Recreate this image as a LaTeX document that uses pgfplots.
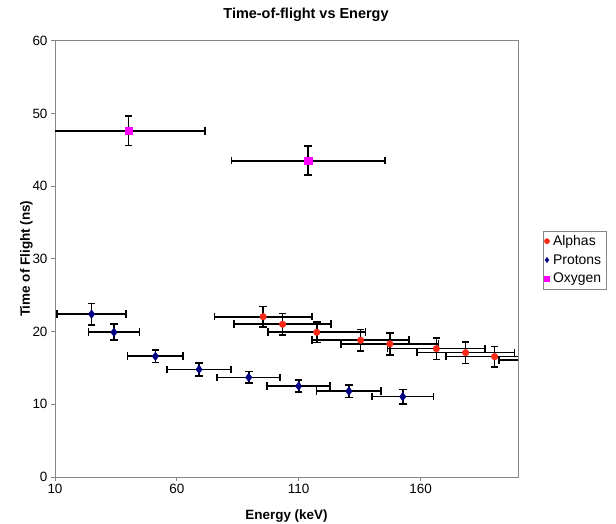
\documentclass[border=0pt]{standalone}
\usepackage{fontspec}
\setmainfont{Liberation Sans}
\usepackage{pgfplots}
\usepackage{pgfplotstable}
\pgfplotsset{compat=1.18}
\definecolor{alphared}{RGB}{250,40,20}
\definecolor{protonblue}{RGB}{0,0,128}
\definecolor{oxmag}{RGB}{255,0,255}
\definecolor{framegray}{RGB}{134,134,134}
\pgfplotstableread{
x y ex ey
95.4 22.05 20 1.4
103.4 21.0 20 1.5
117.4 19.9 20 1.4
135.4 18.8 20 1.5
147.4 18.3 20 1.5
166.5 17.65 20 1.5
178.5 17.1 20 1.5
190.4 16.55 20 1.4
212.2 16.1 20 1.5
}\alphas
\pgfplotstableread{
x y ex ey
25.0 22.4 14.2 1.45
34.2 19.9 10.5 1.1
51.2 16.6 11.4 0.85
69.1 14.8 13.0 0.9
89.5 13.7 12.9 0.8
110.0 12.5 12.9 0.85
130.6 11.8 13.3 0.85
152.7 11.05 12.6 1.0
}\protons
\pgfplotstableread{
x y ex ey
40.1 47.6 31.5 2.0
113.9 43.5 31.5 2.0
}\oxygen
\begin{document}
\begin{tikzpicture}[x=1bp,y=1bp]
\path[use as bounding box] (0,0) rectangle (616,524);
\begin{axis}[
  at={(55bp,47bp)}, anchor=south west,
  width=463bp, height=436.3bp, scale only axis,
  xmin=10, xmax=200, ymin=0, ymax=60,
  xtick={10,60,110,160}, ytick={0,10,...,60},
  tick align=outside, tick pos=left, major tick length=4bp,
  axis line style={framegray, line width=0.9bp},
  every tick/.style={framegray, line width=0.9bp},
  ticklabel style={font=\fontsize{13.5}{13.5}\selectfont},
  /pgf/number format/assume math mode=true,
  xlabel={Energy (keV)}, ylabel={Time of Flight (ns)},
  label style={font=\bfseries\fontsize{13.5}{13.5}\selectfont},
  xlabel style={at={(axis description cs:0.5,-0.0894)}, anchor=center},
  ylabel style={at={(axis description cs:-0.0616,0.5)}, anchor=center},
  clip marker paths=true,
  legend style={at={(axis description cs:1.0533,0.5645)}, anchor=north west,
    draw=framegray, font=\fontsize{14}{15}\selectfont, inner xsep=1.5bp, inner ysep=2.5bp,
    row sep=3.5bp, nodes={inner xsep=3.5bp}},
  legend image post style={mark size=2.6bp},
  legend cell align=left,
  error bars/error bar style={black, line width=1.7bp},
  error bars/error mark options={black, line width=1.7bp, mark size=3.8bp, rotate=90},
]
\addplot[only marks, mark=*, mark size=3.3bp, color=alphared,
  mark options={fill=alphared, draw=alphared},
  error bars/.cd, x dir=both, x explicit, y dir=both, y explicit]
  table[x=x, y=y, x error=ex, y error=ey] {\alphas};
\addlegendentry{Alphas}
\addplot[only marks, mark=diamond*, mark size=4.3bp, color=protonblue,
  mark options={fill=protonblue, draw=protonblue},
  error bars/.cd, x dir=both, x explicit, y dir=both, y explicit]
  table[x=x, y=y, x error=ex, y error=ey] {\protons};
\addlegendentry{Protons}
\addplot[only marks, mark=square*, mark size=3.6bp, color=oxmag,
  mark options={fill=oxmag, draw=oxmag},
  error bars/.cd, x dir=both, x explicit, y dir=both, y explicit]
  table[x=x, y=y, x error=ex, y error=ey] {\oxygen};
\addlegendentry{Oxygen}
\end{axis}
\node[font=\bfseries\fontsize{14.5}{14.5}\selectfont] at (306,509) {Time-of-flight vs Energy};
\end{tikzpicture}
\end{document}
